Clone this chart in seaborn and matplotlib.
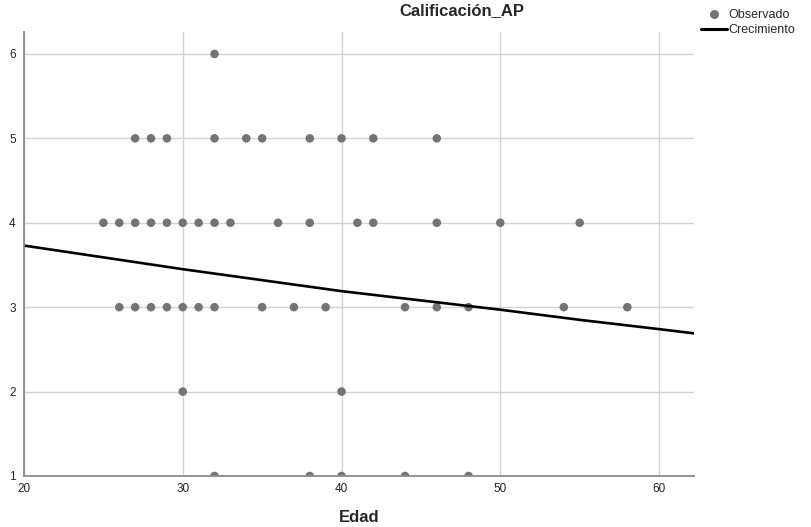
import matplotlib
matplotlib.use("Agg")
import matplotlib.pyplot as plt
import seaborn as sns
import pandas as pd
from matplotlib.lines import Line2D

# ---- data ----
edad_6 = [32]
edad_5 = [27, 28, 29, 32, 34, 35, 38, 40, 42, 46]
edad_4 = [25, 26, 27, 28, 29, 30, 31, 32, 33, 36, 38, 41, 42, 46, 50, 55]
edad_3 = [26, 27, 28, 29, 30, 31, 32, 35, 37, 39, 44, 46, 48, 54, 58]
edad_2 = [30, 40]
edad_1 = [32, 38, 40, 44, 48]

curve_edad = [20, 25, 30, 35, 40, 45, 50, 55, 60, 62.2]
curve_calif = [3.73, 3.59, 3.45, 3.32, 3.19, 3.08, 2.97, 2.85, 2.74, 2.69]

x_ticks = [20, 30, 40, 50, 60]
y_ticks = [1, 2, 3, 4, 5, 6]

rows = []
for val, ages in [(6, edad_6), (5, edad_5), (4, edad_4), (3, edad_3), (2, edad_2), (1, edad_1)]:
    for a in ages:
        rows.append({"Edad": a, "Calificación_AP": val})
obs = pd.DataFrame(rows)
curve = pd.DataFrame({"Edad": curve_edad, "Calificación_AP": curve_calif})

sns.set_style("white")
plt.rcParams["font.family"] = ["Liberation Sans Narrow", "Liberation Sans", "DejaVu Sans"]

fig = plt.figure(figsize=(8.12, 5.27), dpi=100)
ax = fig.add_axes([24 / 812, 1 - 476 / 527, (694 - 24) / 812, (476 - 32) / 527])

ax.set_xlim(20, 62.2)
ax.set_ylim(1, 6.26)
ax.set_xticks(x_ticks)
ax.set_yticks(y_ticks)
ax.grid(True, color="#d2d2d2", linewidth=1.0)
ax.set_axisbelow(True)

sns.scatterplot(data=obs, x="Edad", y="Calificación_AP", ax=ax, color="#747474",
                s=38, edgecolor="none", zorder=3, legend=False)
sns.lineplot(data=curve, x="Edad", y="Calificación_AP", ax=ax, color="black",
             linewidth=1.9, zorder=4, legend=False)

for side in ["top", "right"]:
    ax.spines[side].set_visible(False)
for side in ["left", "bottom"]:
    ax.spines[side].set_color("#8a8a8a")
    ax.spines[side].set_linewidth(1.3)
    ax.spines[side].set_zorder(5)

ax.tick_params(axis="both", length=0, labelsize=8.5, colors="#222222")
ax.tick_params(axis="x", pad=5)
ax.tick_params(axis="y", pad=6)
ax.set_ylabel("")
ax.set_xlabel("Edad", fontsize=12, fontweight="bold", labelpad=11)

fig.text(462 / 812, 1 - 11 / 527, "Calificación_AP", ha="center", va="center",
         fontsize=12, fontweight="bold")

handles = [
    Line2D([0], [0], marker="o", color="none", markerfacecolor="#747474",
           markeredgecolor="none", markersize=6.5, label="Observado"),
    Line2D([0], [0], color="black", linewidth=2.2, label="Crecimiento"),
]
fig.legend(handles=handles, loc="upper left", bbox_to_anchor=(701 / 812, 1 - 9 / 527),
           frameon=False, fontsize=9, handlelength=2.1, handletextpad=0.1,
           labelspacing=0.25, borderaxespad=0, borderpad=0)

fig.savefig("out.png", dpi=100)
